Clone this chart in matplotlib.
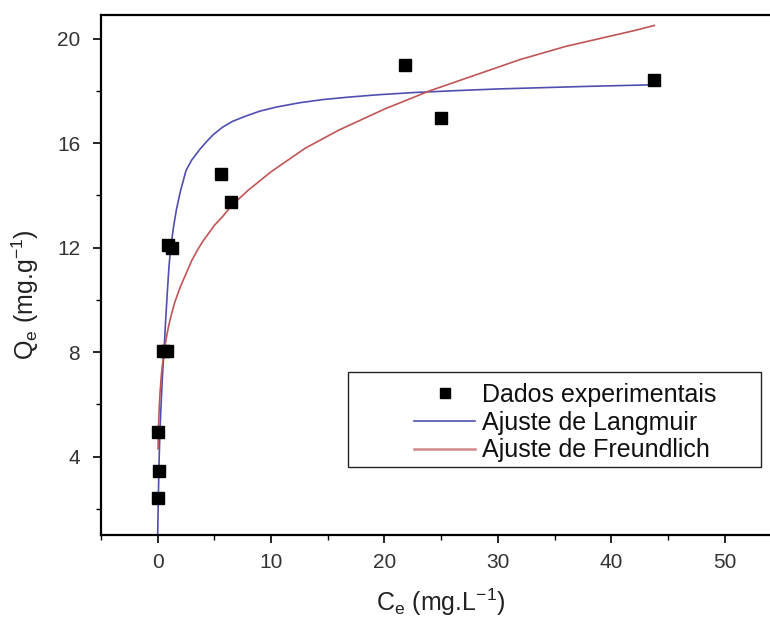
import matplotlib
matplotlib.use("Agg")
import matplotlib.pyplot as plt
from matplotlib.patches import Rectangle
from matplotlib.ticker import MultipleLocator

plt.rcParams['font.family'] = ['Liberation Sans', 'DejaVu Sans']
plt.rcParams['mathtext.fontset'] = 'custom'
plt.rcParams['mathtext.rm'] = 'Liberation Sans'
plt.rcParams['mathtext.it'] = 'Liberation Sans'

# Experimental data
ce_exp = [0.0, 0.1, 0.0, 0.45, 0.8, 0.9, 1.25, 5.6, 6.5, 21.8, 25.0, 43.8]
qe_exp = [2.4, 3.45, 4.95, 8.05, 8.05, 12.1, 12.0, 14.8, 13.75, 19.0, 16.95, 18.4]

# Langmuir fit curve
ce_lang = [0.0, 0.05, 0.12, 0.2, 0.3, 0.42, 0.56, 0.7, 0.85, 1.0, 1.15, 1.4, 1.65,
           2.0, 2.5, 3.0, 3.7, 4.3, 4.9, 5.7, 6.6, 7.7, 9.0, 10.5, 12.5, 14.5,
           16.9, 19.5, 22.5, 26.0, 30.0, 34.0, 38.0, 43.8]
qe_lang = [1.0, 2.3, 3.8, 5.0, 6.0, 7.1, 8.05, 9.2, 10.3, 11.3, 12.0, 12.8, 13.45,
           14.15, 14.95, 15.35, 15.75, 16.05, 16.32, 16.6, 16.83, 17.02, 17.22, 17.38,
           17.54, 17.66, 17.76, 17.85, 17.93, 18.0, 18.07, 18.12, 18.17, 18.23]

# Freundlich fit curve
ce_freu = [0.03, 0.05, 0.1, 0.15, 0.2, 0.3, 0.4, 0.55, 0.7, 0.85, 1.0, 1.25, 1.5,
           1.75, 2.0, 2.5, 3.0, 3.5, 4.0, 4.5, 5.0, 5.75, 6.5, 7.25, 8.0, 9.0,
           10.0, 11.5, 13.0, 14.5, 16.0, 18.0, 20.0, 22.0, 24.0, 26.0, 28.0, 30.0,
           32.0, 34.0, 36.0, 38.0, 40.0, 42.0, 43.8]
qe_freu = [4.3, 4.8, 5.5, 6.0, 6.4, 7.0, 7.45, 7.95, 8.4, 8.75, 9.07, 9.5, 9.9,
           10.2, 10.5, 11.0, 11.5, 11.9, 12.25, 12.55, 12.85, 13.2, 13.6, 13.9, 14.2, 14.55,
           14.9, 15.35, 15.8, 16.15, 16.5, 16.9, 17.3, 17.65, 18.0, 18.3, 18.6, 18.9,
           19.2, 19.45, 19.7, 19.9, 20.1, 20.3, 20.5]

labels = ['Dados experimentais', 'Ajuste de Langmuir', 'Ajuste de Freundlich']

fig = plt.figure(figsize=(7.7, 6.19), dpi=100)
ax = fig.add_axes([101/770, 1-535/619, 1-101/770, (535-15)/619])

h_lang, = ax.plot(ce_lang, qe_lang, color='#4f4fb0', lw=1.2, zorder=2)
h_freu, = ax.plot(ce_freu, qe_freu, color='#c05555', lw=1.2, zorder=2)
h_exp, = ax.plot(ce_exp, qe_exp, 's', color='black', ms=8.5, zorder=3, ls='none')

ax.set_xlim(-5, 54)
ax.set_ylim(1.0, 20.9)
ax.xaxis.set_major_locator(MultipleLocator(10))
ax.xaxis.set_minor_locator(MultipleLocator(5))
ax.yaxis.set_major_locator(MultipleLocator(4))
ax.yaxis.set_minor_locator(MultipleLocator(2))
ax.tick_params(which='major', direction='out', length=6, width=1.2, labelsize=15,
               colors='black', labelcolor='#333333')
ax.tick_params(axis='x', which='major', pad=7)
ax.tick_params(axis='y', which='major', pad=9)
ax.tick_params(which='minor', direction='out', length=3.5, width=1.0)
ax.tick_params(top=False, right=False, which='both')
for s in ['left', 'bottom', 'top']:
    ax.spines[s].set_linewidth(1.6)
ax.spines['right'].set_visible(False)

ax.set_xlabel(r'C$_\mathregular{e}$ (mg.L$^\mathregular{-1}$)', fontsize=18, color='#222222')
ax.set_ylabel(r'Q$_\mathregular{e}$ (mg.g$^\mathregular{-1}$)', fontsize=18, color='#222222')
ax.xaxis.set_label_coords((441-101)/669, -0.100)
ax.yaxis.set_label_coords(-0.090, 0.463)

# legend frame
x0 = (348-101)/669
x1 = (761-101)/669
y0 = (535-467)/520
y1 = (535-372)/520
ax.add_patch(Rectangle((x0, y0), x1-x0, y1-y0, transform=ax.transAxes,
                       fill=True, facecolor='white', edgecolor='#222222', lw=1.0, zorder=4))
leg = ax.legend([h_exp, h_lang, h_freu], labels, loc='upper left',
                bbox_to_anchor=((414-101)/669, (535-383)/520), frameon=False,
                fontsize=18, handlelength=2.45, handletextpad=0.28,
                labelspacing=0.15, borderpad=0, borderaxespad=0)
leg.set_zorder(5)
for t in leg.get_texts():
    t.set_color('#111111')
leg.legend_handles[0].set_markersize(6.5)
leg.legend_handles[2].set_color('#d08888')
leg.legend_handles[2].set_linewidth(1.8)

fig.savefig('out.png', dpi=100)
